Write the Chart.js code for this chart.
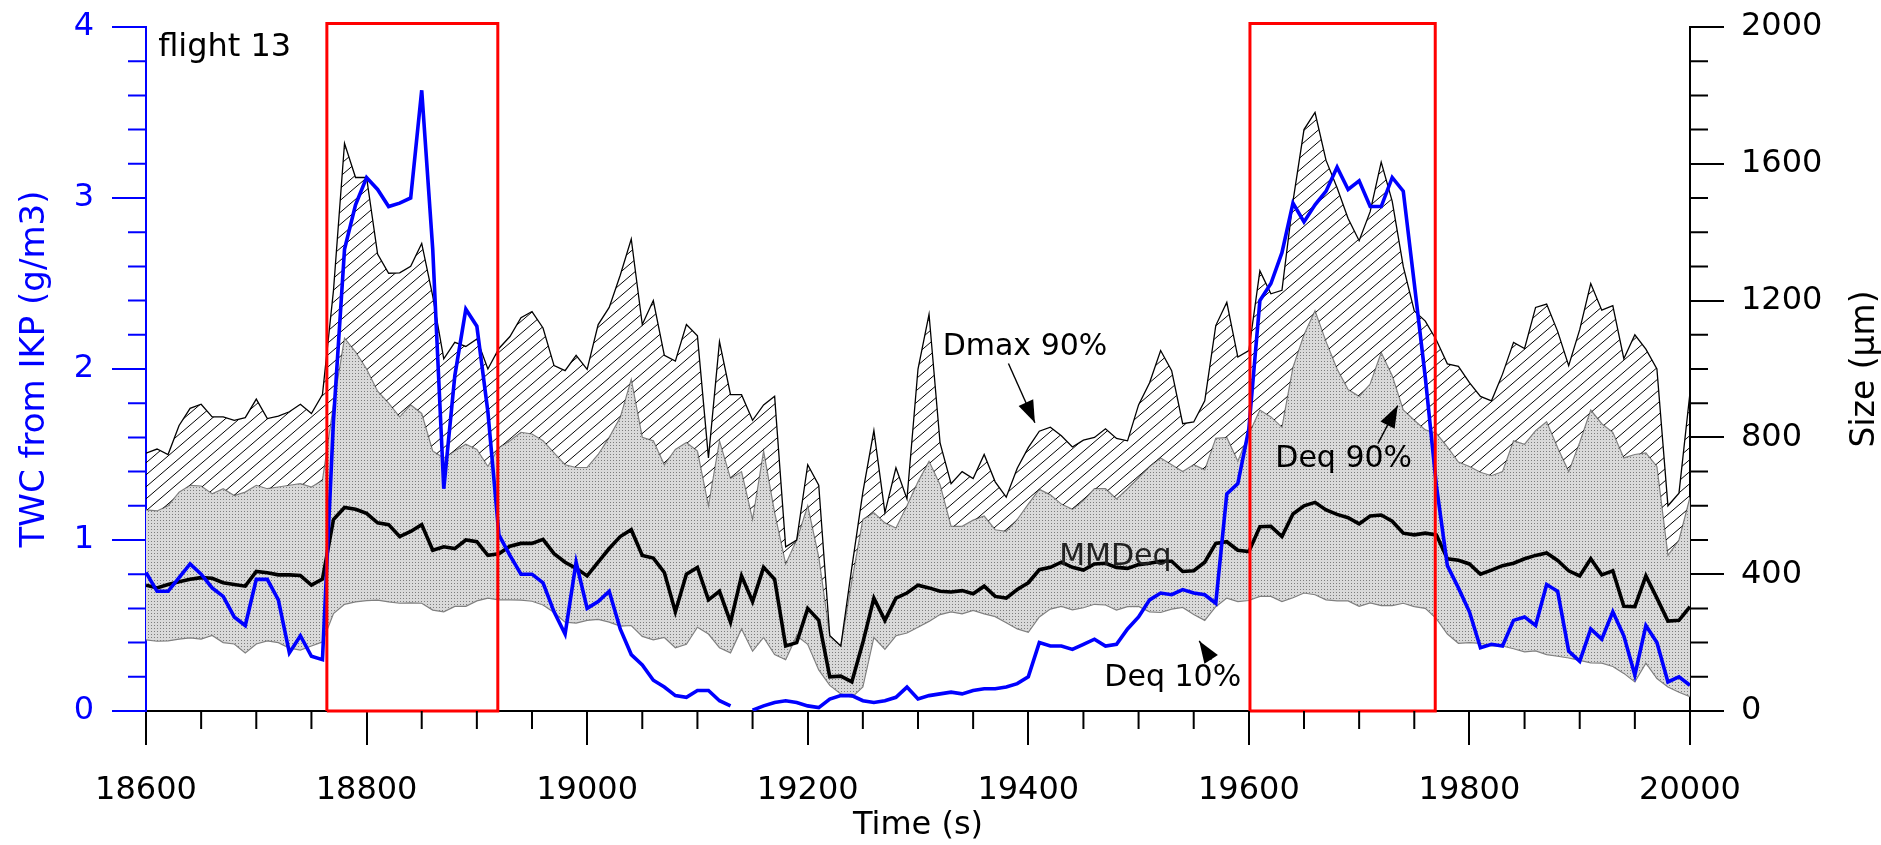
<!DOCTYPE html>
<html lang="en">
<head>
<meta charset="UTF-8">
<title>flight 13 - TWC and particle size</title>
<script src="https://cdn.jsdelivr.net/npm/chart.js"></script>
<style>
    body { margin: 0; background: #fff; }
    #wrap { width: 1881px; height: 845px; }
</style>
</head>
<body>
<div id="wrap"><canvas id="flightChart" width="1881" height="845"></canvas></div>
<script>
    const FONT = 'DejaVu Sans';

    // sample times (s), one every 10 s
    const times = [];
    for (let t = 18600; t <= 20000; t += 10) times.push(t);

    // Dmax 90% (um), top of hatched band
    const dmax90 = [
        754, 766, 750, 835, 885, 897, 860, 860, 850, 858,
        912, 855, 862, 875, 897, 870, 925, 1230, 1660, 1560,
        1560, 1336, 1280, 1281, 1300, 1367, 1213, 1030, 1078, 1066,
        1088, 1000, 1060, 1095, 1150, 1168, 1120, 1010, 995, 1040,
        999, 1130, 1180, 1274, 1380, 1130, 1200, 1040, 1023, 1130,
        1097, 740, 1080, 925, 925, 850, 895, 920, 480, 500,
        720, 660, 220, 190, 420, 640, 820, 580, 711, 620,
        1000, 1160, 784, 665, 700, 680, 750, 670, 625, 710,
        770, 818, 830, 805, 772, 792, 800, 825, 797, 790,
        895, 960, 1054, 995, 840, 845, 907, 1127, 1195, 1035,
        1054, 1287, 1220, 1230, 1490, 1700, 1750, 1610, 1530, 1440,
        1375, 1460, 1605, 1490, 1300, 1170, 1140, 1085, 1015, 1008,
        960, 920, 907, 985, 1078, 1060, 1180, 1190, 1110, 1010,
        1115, 1250, 1172, 1185, 1030, 1100, 1058, 1000, 600, 637,
        931
    ];

    // Deq 90% (um)
    const deq90 = [
        588, 585, 600, 640, 660, 658, 635, 650, 630, 640,
        660, 650, 655, 660, 665, 655, 675, 895, 1090, 1050,
        1000, 935, 900, 860, 895, 870, 760, 740, 760, 780,
        765, 715, 770, 790, 815, 810, 790, 755, 720, 712,
        712, 750, 800, 858, 970, 800, 790, 720, 765, 785,
        760, 600, 790, 680, 700, 560, 760, 580, 430, 500,
        600, 450, 220, 190, 380, 560, 580, 550, 535, 600,
        670, 730, 662, 540, 540, 558, 570, 530, 525, 560,
        605, 648, 632, 605, 590, 615, 650, 650, 620, 650,
        682, 715, 740, 720, 700, 720, 705, 797, 800, 730,
        810, 880, 860, 830, 1005, 1100, 1170, 1080, 1000, 940,
        920, 956, 1048, 980, 880, 850, 822, 812, 772, 728,
        715, 698, 688, 700, 790, 780, 820, 846, 770, 700,
        785, 880, 840, 815, 740, 750, 755, 715, 455, 500,
        625
    ];

    // Deq 10% (um)
    const deq10 = [
        208, 204, 205, 210, 214, 210, 221, 200, 196, 170,
        196, 205, 200, 184, 178, 190, 202, 285, 312, 319,
        323, 324, 319, 315, 316, 315, 295, 290, 306, 306,
        322, 330, 325, 325, 324, 321, 310, 288, 260, 257,
        265, 268, 260, 248, 250, 218, 208, 215, 185, 195,
        245, 225, 185, 170, 240, 175, 215, 165, 150, 220,
        195, 120, 75, 50, 40, 70, 215, 180, 220, 228,
        245, 262, 282, 290, 284, 294, 284, 276, 258, 240,
        230, 275, 298, 306, 296, 302, 312, 310, 295, 305,
        306, 290, 288, 298, 303, 282, 265, 305, 330, 320,
        323, 335, 335, 320, 331, 345, 340, 325, 322, 322,
        306, 316, 308, 308, 315, 305, 300, 270, 225, 198,
        200, 198, 190, 190, 182, 173, 176, 165, 160, 155,
        148, 141, 140, 130, 110, 85, 140, 95, 70, 55,
        42
    ];

    // MMDeq (um)
    const mmdeq = [
        368, 360, 370, 378, 385, 390, 388, 375, 370, 365,
        408, 404, 398, 398, 396, 368, 386, 560, 595, 590,
        578, 550, 545, 510, 525, 545, 470, 480, 475, 500,
        495, 455, 460, 482, 490, 490, 502, 460, 435, 417,
        395, 435, 475, 510, 530, 455, 447, 405, 290, 400,
        420, 325, 350, 260, 395, 320, 420, 385, 190, 200,
        300, 265, 100, 102, 85, 200, 330, 265, 330, 345,
        368, 360, 350, 348, 352, 343, 365, 335, 330, 355,
        375, 413, 420, 435, 420, 412, 430, 432, 420, 417,
        428, 432, 438, 438, 408, 410, 435, 490, 495, 470,
        466, 539, 540, 510, 576, 600, 610, 588, 575, 565,
        547, 570, 573, 555, 520, 515, 520, 515, 445, 441,
        430, 400, 412, 425, 432, 445, 455, 462, 440, 410,
        395, 445, 398, 410, 306, 305, 395, 330, 263, 265,
        305
    ];

    // TWC from IKP (g/m3); null = no data
    const twc = [
        0.81, 0.70, 0.70, 0.78, 0.86, 0.80, 0.72, 0.67, 0.55, 0.50,
        0.77, 0.77, 0.65, 0.34, 0.44, 0.32, 0.30, 1.70, 2.70, 2.96,
        3.12, 3.05, 2.95, 2.97, 3.00, 3.63, 2.70, 1.30, 1.96, 2.35,
        2.25, 1.75, 1.03, 0.91, 0.80, 0.80, 0.75, 0.58, 0.45, 0.87,
        0.60, 0.64, 0.70, 0.48, 0.33, 0.27, 0.18, 0.14, 0.09, 0.08,
        0.12, 0.12, 0.06, 0.03, null, 0.005, 0.03, 0.05, 0.06, 0.05,
        0.03, 0.02, 0.07, 0.09, 0.09, 0.06, 0.05, 0.06, 0.08, 0.14,
        0.07, 0.09, 0.10, 0.11, 0.10, 0.12, 0.13, 0.13, 0.14, 0.16,
        0.20, 0.40, 0.38, 0.38, 0.36, 0.39, 0.42, 0.38, 0.39, 0.48,
        0.55, 0.65, 0.69, 0.68, 0.71, 0.69, 0.68, 0.63, 1.27, 1.33,
        1.65, 2.40, 2.50, 2.68, 2.97, 2.86, 2.96, 3.04, 3.18, 3.05,
        3.10, 2.95, 2.95, 3.12, 3.04, 2.50, 1.95, 1.32, 0.85, 0.72,
        0.58, 0.37, 0.39, 0.38, 0.53, 0.55, 0.50, 0.74, 0.70, 0.35,
        0.29, 0.48, 0.42, 0.58, 0.44, 0.21, 0.50, 0.40, 0.17, 0.20,
        0.15
    ];

    // red boxes (time span in s, top in g/m3)
    const boxStart = [18764, 19601];
    const boxEnd = [18919, 19769];
    const boxTop = 4.02;

    const pts = arr => times.map((t, i) => ({ x: t, y: arr[i] }));
    const boxPts = i => [
        { x: boxStart[i], y: 0 }, { x: boxStart[i], y: boxTop },
        { x: boxEnd[i], y: boxTop }, { x: boxEnd[i], y: 0 }, { x: boxStart[i], y: 0 }
    ];

    const canvas = document.getElementById('flightChart');
    const ctx = canvas.getContext('2d');

    // fill patterns
    function makeHatch() {
        const c = document.createElement('canvas');
        c.width = 14; c.height = 12;
        const g = c.getContext('2d');
        g.strokeStyle = '#000';
        g.lineWidth = 1;
        [[-14, 12, 14, -12], [-14, 24, 28, -12], [0, 24, 28, 0]].forEach(l => {
            g.beginPath(); g.moveTo(l[0], l[1]); g.lineTo(l[2], l[3]); g.stroke();
        });
        return ctx.createPattern(c, 'repeat');
    }
    function makeDots() {
        const c = document.createElement('canvas');
        c.width = 3; c.height = 3;
        const g = c.getContext('2d');
        g.fillStyle = '#d9d9d9';
        g.fillRect(0, 0, 3, 3);
        g.fillStyle = '#7c7c7c';
        g.fillRect(1, 1, 1, 1);
        return ctx.createPattern(c, 'repeat');
    }

    // minor tick marks on all three axes
    const minorTicks = {
        id: 'minorTicks',
        afterDraw(chart) {
            const { x, yTwc, ySize } = chart.scales;
            const c = chart.ctx;
            const len = 18;
            c.save();
            c.lineWidth = 2;
            c.strokeStyle = '#000';
            c.beginPath();
            for (let t = 18650; t < 20000; t += 50) {
                if (t % 200 === 0) continue;
                const px = x.getPixelForValue(t);
                c.moveTo(px, x.top); c.lineTo(px, x.top + len);
            }
            for (let s = 100; s < 2000; s += 100) {
                if (s % 400 === 0) continue;
                const py = ySize.getPixelForValue(s);
                c.moveTo(ySize.left, py); c.lineTo(ySize.left + len, py);
            }
            c.stroke();
            c.strokeStyle = '#0000ff';
            c.beginPath();
            for (let k = 1; k < 20; k++) {
                if (k % 5 === 0) continue;
                const py = yTwc.getPixelForValue(k / 5);
                c.moveTo(yTwc.right, py); c.lineTo(yTwc.right - len, py);
            }
            c.stroke();
            c.restore();
        }
    };

    // text labels and arrows, anchored in data units
    const notes = [
        { text: 'Dmax 90%', t: 19397, s: 1063 },
        { text: 'Deq 90%', t: 19686, s: 735 },
        { text: 'MMDeq', t: 19479, s: 451, color: '#222' },
        { text: 'Deq 10%', t: 19531, s: 97 }
    ];
    const arrows = [
        { t1: 19382, s1: 1016, t2: 19406, s2: 843 },
        { t1: 19717, s1: 782, t2: 19735, s2: 893 },
        { t1: 19566, s1: 150, t2: 19555, s2: 205 }
    ];

    const annotations = {
        id: 'annotations',
        afterDraw(chart) {
            const { x, yTwc, ySize } = chart.scales;
            const c = chart.ctx;
            c.save();
            c.textAlign = 'center';
            c.textBaseline = 'middle';
            c.font = '30px "' + FONT + '"';
            notes.forEach(n => {
                c.fillStyle = n.color || '#000';
                c.fillText(n.text, x.getPixelForValue(n.t), ySize.getPixelForValue(n.s));
            });
            arrows.forEach(a => {
                const x1 = x.getPixelForValue(a.t1), y1 = ySize.getPixelForValue(a.s1);
                const x2 = x.getPixelForValue(a.t2), y2 = ySize.getPixelForValue(a.s2);
                const ang = Math.atan2(y2 - y1, x2 - x1);
                const hl = 22, hw = 8;
                c.strokeStyle = '#000';
                c.lineWidth = 1.4;
                c.beginPath(); c.moveTo(x1, y1); c.lineTo(x2, y2); c.stroke();
                c.fillStyle = '#000';
                c.beginPath();
                c.moveTo(x2, y2);
                c.lineTo(x2 - hl * Math.cos(ang) + hw * Math.sin(ang), y2 - hl * Math.sin(ang) - hw * Math.cos(ang));
                c.lineTo(x2 - hl * Math.cos(ang) - hw * Math.sin(ang), y2 - hl * Math.sin(ang) + hw * Math.cos(ang));
                c.closePath();
                c.fill();
            });
            // flight label
            c.textAlign = 'left';
            c.fillStyle = '#000';
            c.font = '32px "' + FONT + '"';
            c.fillText('flight 13', x.getPixelForValue(18611), yTwc.getPixelForValue(3.88));
            // right axis title, reading bottom to top
            c.translate(ySize.right - 16, (ySize.top + ySize.bottom) / 2);
            c.rotate(-Math.PI / 2);
            c.textAlign = 'center';
            c.font = '33px "' + FONT + '"';
            c.fillText('Size (\u00b5m)', 0, 0);
            c.restore();
        }
    };

    const tickFont = { family: FONT, size: 32 };

    // pin the plot frame: fixed axis widths, no extra label padding on top
    const fitY = w => s => { s.width = w; s.paddingTop = 0; s.paddingBottom = 0; };

    new Chart(ctx, {
        type: 'line',
        data: {
            datasets: [
                { label: 'Deq 10%', data: pts(deq10), yAxisID: 'ySize', borderColor: '#808080', borderWidth: 1.2, fill: false, order: 3 },
                { label: 'Deq 90%', data: pts(deq90), yAxisID: 'ySize', borderColor: '#808080', borderWidth: 1.2, fill: '-1', backgroundColor: makeDots(), order: 5 },
                { label: 'Dmax 90%', data: pts(dmax90), yAxisID: 'ySize', borderColor: '#000', borderWidth: 1.3, fill: '-1', backgroundColor: makeHatch(), order: 4 },
                { label: 'MMDeq', data: pts(mmdeq), yAxisID: 'ySize', borderColor: '#000', borderWidth: 3.6, order: 1 },
                { label: 'TWC', data: pts(twc), yAxisID: 'yTwc', borderColor: '#0000ff', borderWidth: 3.6, spanGaps: false, order: 0 },
                { label: 'box 1', data: boxPts(0), yAxisID: 'yTwc', borderColor: '#ff0000', borderWidth: 3, clip: false, order: -1 },
                { label: 'box 2', data: boxPts(1), yAxisID: 'yTwc', borderColor: '#ff0000', borderWidth: 3, clip: false, order: -1 }
            ]
        },
        options: {
            responsive: false,
            animation: false,
            layout: { padding: { top: 27, left: 0, right: 0, bottom: 0 } },
            elements: { point: { radius: 0 }, line: { tension: 0 } },
            plugins: { legend: { display: false }, tooltip: { enabled: false } },
            scales: {
                x: {
                    type: 'linear', position: 'bottom', min: 18600, max: 20000,
                    ticks: { stepSize: 200, color: '#000', font: tickFont, padding: 26, maxRotation: 0, autoSkip: false, callback: v => String(v) },
                    grid: { drawOnChartArea: false, color: '#000', lineWidth: 2, tickLength: 34 },
                    border: { color: '#000', width: 2 },
                    title: { display: true, text: 'Time (s)', color: '#000', font: { family: FONT, size: 32 }, padding: { top: 0, bottom: 0 } },
                    afterFit: s => { s.height = 134; }
                },
                yTwc: {
                    type: 'linear', position: 'left', min: 0, max: 4,
                    ticks: { stepSize: 1, color: '#0000ff', font: tickFont, padding: 18 },
                    grid: { drawOnChartArea: false, color: '#0000ff', lineWidth: 2, tickLength: 34 },
                    border: { color: '#0000ff', width: 2 },
                    title: { display: true, text: 'TWC from IKP (g/m3)', color: '#0000ff', font: { family: FONT, size: 34 }, padding: { top: 15, bottom: 0 } },
                    afterFit: fitY(146)
                },
                ySize: {
                    type: 'linear', position: 'right', min: 0, max: 2000,
                    ticks: { stepSize: 400, color: '#000', font: tickFont, padding: 17, callback: v => String(v) },
                    grid: { drawOnChartArea: false, color: '#000', lineWidth: 2, tickLength: 34 },
                    border: { color: '#000', width: 2 },
                    afterFit: fitY(191)
                }
            }
        },
        plugins: [minorTicks, annotations]
    });
</script>
</body>
</html>
